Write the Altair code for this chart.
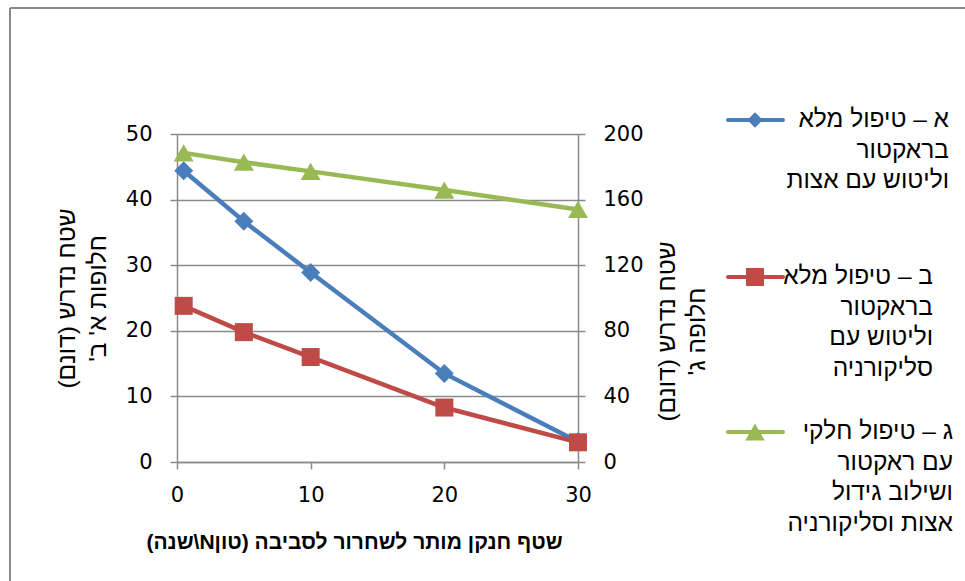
import altair as alt
import pandas as pd

# ---------------- data ----------------
x_values = [0.5, 5, 10, 20, 30]
alt_a = [44.4, 36.7, 28.9, 13.5, 3.1]        # left axis
alt_b = [23.8, 19.8, 16.0, 8.3, 3.0]         # left axis
alt_c = [188.5, 182.8, 177.2, 165.8, 154.0]  # right axis

x_ticks = [0, 10, 20, 30]
y_left_ticks = [0, 10, 20, 30, 40, 50]
y_right_ticks = [0, 40, 80, 120, 160, 200]

legend_a = ["א – טיפול מלא", "בראקטור", "וליטוש עם אצות"]
legend_b = ["ב – טיפול מלא", "בראקטור", "וליטוש עם", "סליקורניה"]
legend_c = ["ג – טיפול חלקי", "עם ראקטור", "ושילוב גידול", "אצות וסליקורניה"]
x_title = "שטף חנקן מותר לשחרור לסביבה (טוןN\\שנה)"
y_left_title = ["שטח נדרש (דונם)", "חלופות א' ב'"]
y_right_title = ["שטח נדרש (דונם)", "חלופה ג'"]

# ---------------- style ----------------
BLUE = "#4A7EBB"
RED = "#BE4B48"
GREEN = "#98B954"
GRAY = "#8A8A8A"
NUM_FONT = "DejaVu Sans"
HEB_FONT = "Liberation Sans"
FS = 21
HFS = 24.5
W, H = 401, 328
PAD_L, PAD_T = 177, 134


def rle(s):
    return "\u202b" + s + "\u202c"


df_a = pd.DataFrame({"x": x_values, "v": alt_a})
df_b = pd.DataFrame({"x": x_values, "v": alt_b})
df_c = pd.DataFrame({"x": x_values, "v": alt_c})
dummy = pd.DataFrame({"k": [0]})

X = alt.X(
    "x:Q",
    scale=alt.Scale(domain=[0, 30], nice=False, zero=True),
    axis=alt.Axis(
        values=x_ticks, grid=False, domain=True, domainColor=GRAY, domainWidth=1.5,
        ticks=True, tickColor=GRAY, tickWidth=1.5, tickSize=7, labelFlush=False,
        labelFont=NUM_FONT, labelFontSize=FS, labelColor="black", labelPadding=15,
        title=rle(x_title), titleFont=HEB_FONT, titleFontSize=FS, titleFontWeight="bold",
        titleColor="black", titleX=177, titleY=80, titleBaseline="middle", titleAlign="center",
    ),
)

YL = alt.Y(
    "v:Q",
    scale=alt.Scale(domain=[0, 50], nice=False),
    axis=alt.Axis(
        values=y_left_ticks, grid=True, gridColor=GRAY, gridWidth=1.5,
        domain=True, domainColor=GRAY, domainWidth=1.5, labelFlush=False,
        ticks=True, tickColor=GRAY, tickWidth=1.5, tickSize=7,
        labelFont=NUM_FONT, labelFontSize=FS, labelColor="black", labelPadding=18,
        title=[rle(t) for t in y_left_title], titleFont=HEB_FONT, titleFontSize=HFS,
        titleFontWeight="normal", titleColor="black", titleAngle=270,
        titleX=-110, titleY=164, titleBaseline="middle", titleAlign="center", titleLineHeight=31,
    ),
)

YR = alt.Y(
    "v:Q",
    scale=alt.Scale(domain=[0, 200], nice=False),
    axis=alt.Axis(
        orient="right", values=y_right_ticks, grid=False,
        domain=True, domainColor=GRAY, domainWidth=1.5, labelFlush=False,
        ticks=True, tickColor=GRAY, tickWidth=1.5, tickSize=7,
        labelFont=NUM_FONT, labelFontSize=FS, labelColor="black", labelPadding=18,
        title=[rle(t) for t in y_right_title], titleFont=HEB_FONT, titleFontSize=HFS,
        titleFontWeight="normal", titleColor="black", titleAngle=270,
        titleX=89, titleY=197, titleBaseline="middle", titleAlign="center", titleLineHeight=30,
    ),
)

left = alt.layer(
    alt.Chart(df_a).mark_line(color=BLUE, strokeWidth=4.5).encode(x=X, y=YL),
    alt.Chart(df_a).mark_point(shape="diamond", filled=True, size=360, color=BLUE, opacity=1).encode(x=X, y=YL),
    alt.Chart(df_b).mark_line(color=RED, strokeWidth=4.5).encode(x=X, y=YL),
    alt.Chart(df_b).mark_point(shape="square", filled=True, size=324, color=RED, opacity=1).encode(x=X, y=YL),
)

right = alt.layer(
    alt.Chart(df_c).mark_line(color=GREEN, strokeWidth=4.5).encode(x=X, y=YR),
    alt.Chart(df_c).mark_point(shape="triangle-up", filled=True, size=400, color=GREEN, opacity=1).encode(x=X, y=YR),
)


def legend_item(lines, color, shape, size, ly, text_right):
    seg = alt.Chart(dummy).mark_rule(color=color, strokeWidth=4, strokeCap="round").encode(
        x=alt.value(551), x2=alt.value(606), y=alt.value(ly)
    )
    pt = alt.Chart(dummy).mark_point(shape=shape, filled=True, size=size, color=color, opacity=1).encode(
        x=alt.value(578), y=alt.value(ly)
    )
    txt = alt.Chart(dummy).mark_text(
        text=[rle(s) for s in lines], align="right", baseline="alphabetic",
        font=HEB_FONT, fontSize=HFS, lineHeight=30.5, color="black",
    ).encode(x=alt.value(text_right), y=alt.value(ly + 7))
    return [seg, pt, txt]


legend_layers = (
    legend_item(legend_a, BLUE, "diamond", 240, -14, 772)
    + legend_item(legend_b, RED, "square", 324, 143, 756)
    + legend_item(legend_c, GREEN, "triangle-up", 380, 298, 776)
)

border = [
    alt.Chart(dummy).mark_rule(color=GRAY, strokeWidth=2).encode(
        x=alt.value(-167), x2=alt.value(800), y=alt.value(-126)
    ),
    alt.Chart(dummy).mark_rule(color=GRAY, strokeWidth=2).encode(
        x=alt.value(-167), y=alt.value(-126), y2=alt.value(460)
    ),
]

chart = (
    alt.layer(left, right, *legend_layers, *border)
    .resolve_scale(y="independent")
    .properties(
        width=W, height=H,
        autosize=alt.AutoSizeParams(type="none"),
        padding={"left": PAD_L, "top": PAD_T, "right": 965 - PAD_L - W, "bottom": 581 - PAD_T - H},
        background="white",
    )
    .configure_view(stroke=None)
)

chart.save("out.html", embed_options={"renderer": "svg", "actions": False})
